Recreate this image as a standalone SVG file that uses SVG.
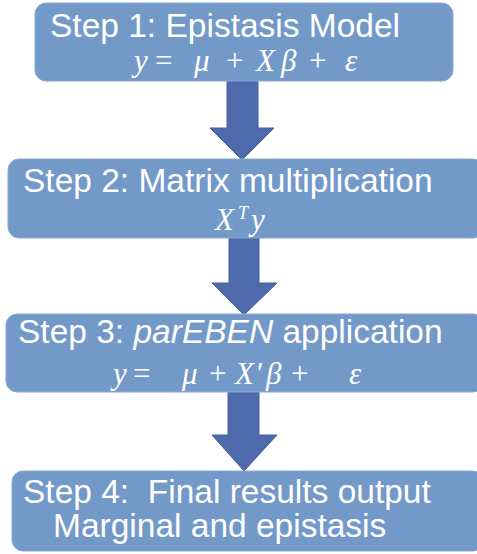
<svg xmlns="http://www.w3.org/2000/svg" width="477" height="554" viewBox="0 0 477 554">
<style>
.box{fill:#7399c9;stroke:#8aaad3;stroke-width:1}
.arrow{fill:#4f6aad;stroke:#45609f;stroke-width:1}
.t{font-family:"Liberation Sans",Arial,sans-serif;font-size:33.5px;fill:#ffffff}
.m{font-family:"Liberation Serif","Times New Roman",serif;font-size:31px;fill:#ffffff}
.i{font-style:italic}
</style>
<rect width="477" height="554" fill="#ffffff"/>
<g id="connectors">
<polygon class="arrow" points="227,81 258,81 258,128 274,128 242,160 210,128 227,128"/>
<polygon class="arrow" points="229,238 259,238 259,283 277,283 244,315 212,283 229,283"/>
<polygon class="arrow" points="228,392 259,392 259,435 277,435 244,471 212,435 228,435"/>
</g>
<g id="step1">
<rect class="box" x="35" y="3" width="418" height="78" rx="11"/>
<text class="t" x="50" y="37">Step 1: Epistasis Model</text>
<text class="m" y="71"><tspan class="i" x="134">y</tspan><tspan x="155">=</tspan><tspan class="i" x="194">μ</tspan><tspan x="226">+</tspan><tspan class="i" x="256">X</tspan><tspan class="i" x="281">β</tspan><tspan x="309">+</tspan><tspan class="i" x="345">ε</tspan></text>
</g>
<g id="step2">
<rect class="box" x="8" y="159" width="476" height="79" rx="11"/>
<text class="t" x="23" y="192">Step 2: Matrix multiplication</text>
<text class="m" y="230"><tspan class="i" x="215">X</tspan><tspan class="i" x="238" y="219" font-size="18">T</tspan><tspan class="i" x="251" y="230">y</tspan></text>
</g>
<g id="step3">
<rect class="box" x="6" y="314" width="478" height="78" rx="11"/>
<text class="t" x="18" y="343">Step 3: <tspan font-style="italic">parEBEN</tspan> application</text>
<text class="m" y="384"><tspan class="i" x="113">y</tspan><tspan x="133">=</tspan><tspan class="i" x="182">μ</tspan><tspan x="209">+</tspan><tspan class="i" x="235">X</tspan><tspan x="257">′</tspan><tspan class="i" x="266">β</tspan><tspan x="291">+</tspan><tspan class="i" x="349">ε</tspan></text>
</g>
<g id="step4">
<rect class="box" x="12" y="471" width="472" height="80" rx="11"/>
<text class="t" x="23" y="503" xml:space="preserve">Step 4:  Final results output</text>
<text class="t" x="53" y="537">Marginal and epistasis</text>
</g>
</svg>
